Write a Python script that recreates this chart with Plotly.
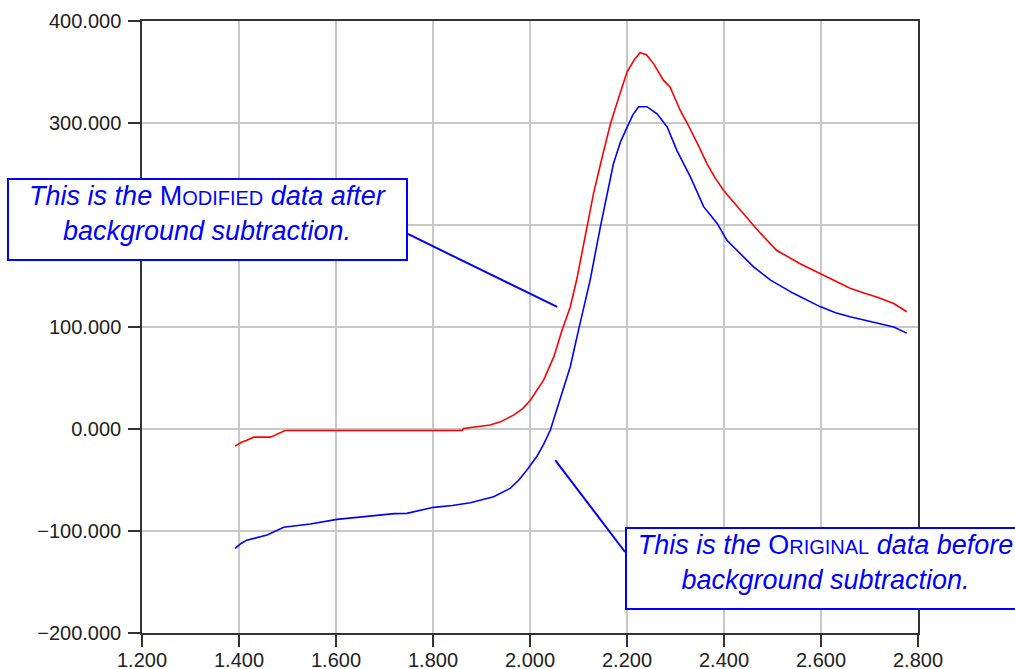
import plotly.graph_objects as go

# Modified data (after background subtraction)
mod_x = [1.392, 1.405, 1.416, 1.430, 1.465, 1.480, 1.495, 1.550, 1.650, 1.750, 1.860,
         1.863, 1.904, 1.918, 1.939, 1.966, 1.985, 2.001, 2.028, 2.049, 2.066, 2.083,
         2.097, 2.115, 2.131, 2.148, 2.166, 2.183, 2.200, 2.215, 2.227, 2.240, 2.255,
         2.275, 2.289, 2.310, 2.324, 2.345, 2.365, 2.382, 2.399, 2.434, 2.475, 2.509,
         2.557, 2.598, 2.630, 2.660, 2.690, 2.715, 2.750, 2.777]
mod_y = [-16.8, -13, -11, -8, -8, -5, -1.5, -1.5, -1.5, -1.5, -1.5,
         0.6, 3, 4, 7, 13.6, 20, 28.4, 47.9, 70.7, 96.9, 119.7,
         148, 190, 231, 265, 299.5, 325, 350, 362, 369, 367, 358,
         342, 335, 312, 300, 280, 260, 246, 234, 214.5, 192, 175,
         162, 152.5, 145, 138, 133, 129.5, 123, 115]

# Original data (before background subtraction)
orig_x = [1.392, 1.405, 1.416, 1.458, 1.492, 1.547, 1.602, 1.664, 1.720, 1.746, 1.770,
          1.801, 1.840, 1.877, 1.925, 1.959, 1.977, 1.994, 2.014, 2.028, 2.042, 2.062,
          2.083, 2.100, 2.114, 2.124, 2.145, 2.172, 2.187, 2.200, 2.212, 2.224, 2.241,
          2.262, 2.283, 2.303, 2.331, 2.358, 2.386, 2.406, 2.434, 2.461, 2.496, 2.543,
          2.598, 2.630, 2.660, 2.715, 2.750, 2.777]
orig_y = [-117, -112, -109, -104, -96.4, -93.2, -88.6, -86, -83, -82.7, -80,
          -76.8, -75, -72.3, -66.4, -58.2, -50, -40, -27, -15, -1, 28.4,
          61, 97, 126, 146, 198, 260, 282, 296, 308, 316, 316,
          309, 296, 273, 247, 218, 201.5, 185, 172, 159, 146, 133,
          120, 114, 110, 103.5, 100, 94]

x_ticks = [1.2, 1.4, 1.6, 1.8, 2.0, 2.2, 2.4, 2.6, 2.8]
y_ticks = [-200, -100, 0, 100, 200, 300, 400]

FONT = "Liberation Sans, Arial, sans-serif"
BLUE = "#0000FF"

fig = go.Figure()
fig.add_trace(go.Scatter(x=orig_x, y=orig_y, mode="lines",
                         line=dict(color="#0000FF", width=1.6), showlegend=False))
fig.add_trace(go.Scatter(x=mod_x, y=mod_y, mode="lines",
                         line=dict(color="#FF0000", width=1.6), showlegend=False))

axis_common = dict(showline=True, linecolor="#333333", linewidth=1.5, mirror=True,
                   showgrid=True, gridcolor="#c8c8c8", gridwidth=1.5,
                   ticks="outside", ticklen=12, tickwidth=1.5, tickcolor="#333333",
                   tickfont=dict(family=FONT, size=20, color="#222222"),
                   zeroline=False, tickformat=".3f", automargin=False)

fig.update_xaxes(range=[1.2, 2.8], tickvals=x_ticks, ticklabelstandoff=-4, **axis_common)
fig.update_yaxes(range=[-200, 400], tickvals=y_ticks, ticklabelstandoff=3, **axis_common)

# connector lines for the callouts
fig.add_shape(type="line", xref="x", yref="y", x0=1.746, y0=191.7, x1=2.056, y1=119.7,
              line=dict(color=BLUE, width=2))
fig.add_shape(type="line", xref="x", yref="y", x0=2.052, y0=-30.5, x1=2.196, y1=-120.6,
              line=dict(color=BLUE, width=2))

sc = 'style="font-size:20px"'
fig.add_annotation(xref="x", yref="y", x=1.3357, y=205.2, showarrow=False,
                   text=f"<i>This is the </i>M<span {sc}>ODIFIED</span><i> data after</i><br><i>background subtraction.</i>",
                   font=dict(family=FONT, size=27, color=BLUE),
                   bgcolor="white", bordercolor=BLUE, borderwidth=2, borderpad=1,
                   width=395, height=77, align="center", valign="top")
fig.add_annotation(xref="x", yref="y", x=2.609, y=-136.8, showarrow=False,
                   text=f"<i>This is the </i>O<span {sc}>RIGINAL</span><i> data before</i><br><i>background subtraction.</i>",
                   font=dict(family=FONT, size=27, color=BLUE),
                   bgcolor="white", bordercolor=BLUE, borderwidth=2, borderpad=1,
                   width=395, height=77, align="center", valign="top")

fig.update_layout(width=1015, height=669, paper_bgcolor="white", plot_bgcolor="white",
                  margin=dict(l=142, r=97, t=21, b=36), showlegend=False)

fig.write_html("out.html")
